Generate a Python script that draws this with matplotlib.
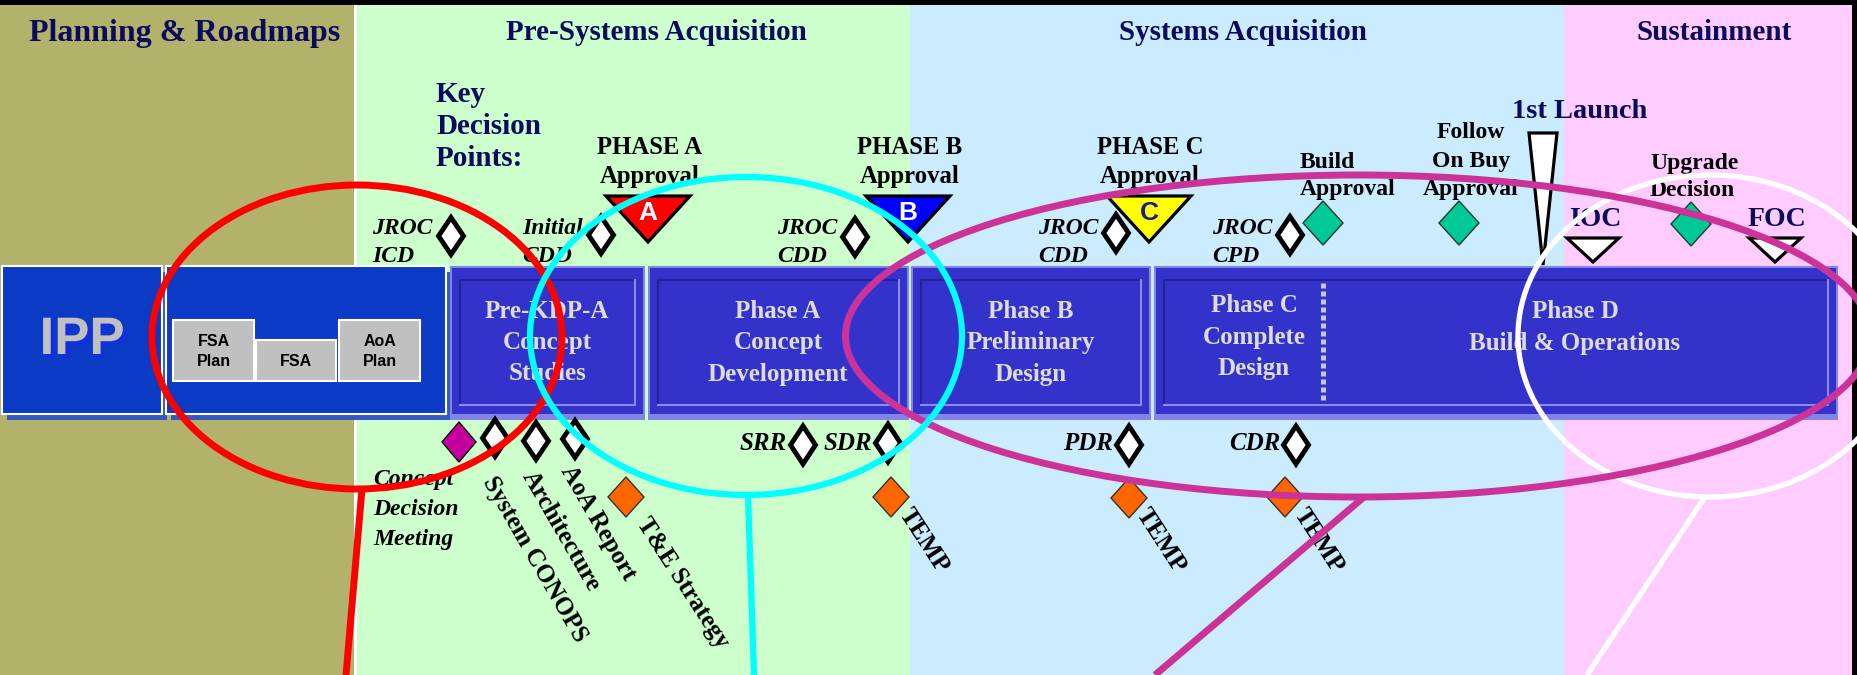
import matplotlib
matplotlib.use("Agg")
import matplotlib.pyplot as plt
import matplotlib.patheffects as pe
from matplotlib.patches import Rectangle, Polygon, Ellipse

SERIF = "Liberation Serif"
SANS = "Liberation Sans"
NAVY = "#0B0B5E"
W, H = 1857, 675

# background panels
panel_names = ["Planning & Roadmaps", "Pre-Systems Acquisition", "Systems Acquisition", "Sustainment"]
panel_left = [0, 357, 910, 1564]
panel_right = [354, 910, 1564, 1852]
panel_colors = ["#B3B26B", "#CCFFCC", "#CBEBFE", "#FFCCFF"]
header_x = [185, 656, 1243, 1714]
header_size = [23, 21, 21, 21]

# IPP / planning boxes
plan_left = [2, 166]
plan_right = [162, 446]
fsa_labels = ["FSA\nPlan", "FSA", "AoA\nPlan"]
fsa_left = [173, 256, 339]
fsa_right = [254, 336, 420]
fsa_top = [320, 340, 320]

# phase boxes
phase_left = [450, 648, 911, 1154]
phase_right = [645, 909, 1151, 1838]
phase_labels = ["Pre-KDP-A\nConcept\nStudies", "Phase A\nConcept\nDevelopment",
                "Phase B\nPreliminary\nDesign", "Phase C\nComplete\nDesign",
                "Phase D\nBuild & Operations"]
phase_text_x = [547, 778, 1031, 1254, 1575]
phase_text_y = [311, 311, 311, 306, 312]

# milestones above the band
jroc_labels = ["JROC\nICD", "Initial\nCDD", "JROC\nCDD", "JROC\nCDD", "JROC\nCPD"]
jroc_x = [451, 601, 855, 1116, 1290]
jroc_y = [236, 235, 237, 233, 235]
jroc_text_x = [372, 522, 777, 1038, 1212]

kdp_letters = ["A", "B", "C"]
kdp_x = [648, 908, 1149]
kdp_fill = ["#FF0000", "#0000FF", "#FFFF00"]
kdp_letter_color = ["white", "white", "#1A1A8C"]
kdp_labels = ["PHASE A\nApproval", "PHASE B\nApproval", "PHASE C\nApproval"]
kdp_label_x = [650, 910, 1150]

green_labels = ["Build\nApproval", "Follow\nOn Buy\nApproval", "Upgrade\nDecision"]
green_x = [1323, 1459, 1691]
green_y = [223, 223, 224]
green_text_x = [1300, 1471, 1650]
green_text_ha = ["left", "center", "left"]
green_text_y = [162, 133, 163]

ops_labels = ["IOC", "FOC"]
ops_x = [1593, 1775]
launch_x = 1543

# milestones below the band
review_labels = ["SRR", "SDR", "PDR", "CDR"]
review_x = [803, 888, 1129, 1296]
review_y = [445, 443, 445, 445]

doc_labels = ["System CONOPS", "Architecture", "AoA Report"]
doc_x = [495, 536, 575]
doc_y = [438, 441, 439]
doc_text_x = [488, 527, 566]
doc_text_y = [478, 473, 467]

orange_labels = ["T&E Strategy", "TEMP", "TEMP", "TEMP"]
orange_x = [626, 891, 1129, 1285]
orange_y = [497, 497, 498, 497]
orange_text_x = [642, 904, 1141, 1299]
orange_text_y = [520, 510, 510, 510]

cdm_label = "Concept\nDecision\nMeeting"
cdm_x, cdm_y = 459, 442

# highlight rings
ring_colors = ["#FFFFFF", "#CC3399", "#FF0000", "#00FFFF"]
ring_cx = [1710, 1358, 357, 746]
ring_cy = [336, 336, 337, 336]
ring_w = [384, 1025, 410, 432]
ring_h = [322, 322, 304, 318]
ring_lw = [3.8, 5, 5, 4.5]
tail_x0 = [1705, 1364, 362, 748]
tail_y0 = [497, 497, 489, 495]
tail_x1 = [1587, 1155, 346, 754]
tail_y1 = [675, 675, 675, 675]


def diamond(ax, x, y, hw, hh, fc, ec, lw, z=6):
    ax.add_patch(Polygon([(x, y - hh), (x + hw, y), (x, y + hh), (x - hw, y)],
                         closed=True, fc=fc, ec=ec, lw=lw, zorder=z, joinstyle="miter"))


def lines(ax, x, y0, text, dy, **kw):
    for i, s in enumerate(text.split("\n")):
        ax.text(x, y0 + i * dy, s, va="center", zorder=8, **kw)


fig = plt.figure(figsize=(W / 100, H / 100), dpi=100)
ax = fig.add_axes([0, 0, 1, 1])
ax.set_xlim(0, W)
ax.set_ylim(H, 0)
ax.axis("off")
ax.add_patch(Rectangle((0, 0), W, H, fc="black", zorder=0))

for l, r, c, name, hx, fs in zip(panel_left, panel_right, panel_colors, panel_names, header_x, header_size):
    ax.add_patch(Rectangle((l, 5), r - l, H - 5, fc=c, zorder=1))
    ax.text(hx, 33, name, ha="center", va="center", family=SERIF, weight="bold",
            fontsize=fs, color=NAVY, zorder=8)
ax.add_patch(Rectangle((354, 5), 3, H, fc="white", zorder=1))

# planning boxes
for l, r in zip(plan_left, plan_right):
    ax.add_patch(Rectangle((l + 5, 272), r - l, 148, fc="#3358C4", zorder=2))
    ax.add_patch(Rectangle((l, 266), r - l, 148, fc="#0B3AC4", ec="white", lw=1.5, zorder=3))
ax.text(82, 340, "IPP", ha="center", va="center", family=SANS, weight="bold",
        fontsize=38, color="#C0C0C0", zorder=4,
        path_effects=[pe.withSimplePatchShadow(offset=(3, -3), shadow_rgbFace="#1030E0", alpha=1.0)])
for lab, l, r, t in zip(fsa_labels, fsa_left, fsa_right, fsa_top):
    ax.add_patch(Rectangle((l, t), r - l, 381 - t, fc="#C0C0C0", ec="white", lw=1.5, zorder=4))
    n = lab.count("\n")
    lines(ax, (l + r) / 2, 361 - 20 * n, lab, 20, ha="center", family=SANS,
          weight="bold", fontsize=11.5, color="black")

# phase boxes
for l, r in zip(phase_left, phase_right):
    ax.add_patch(Rectangle((l, 266), r - l, 154, fc="#8484E8", zorder=2))
    ax.add_patch(Rectangle((l + 2, 268), r - l - 4, 146, fc="#3333CC", zorder=3))
    ax.plot([l + 10, l + 10, r - 10], [405, 280, 280], color="#22229A", lw=1.5, zorder=4)
    ax.plot([l + 10, r - 10, r - 10], [405, 405, 280], color="#8A8AF0", lw=1.5, zorder=4)
for lab, tx, ty in zip(phase_labels, phase_text_x, phase_text_y):
    lines(ax, tx, ty, lab, 31.5, ha="center", family=SERIF, weight="bold",
          fontsize=18, color="#DCDCDC")
ax.plot([1323, 1323], [283, 402], color="#C8C8C8", lw=3.6,
        linestyle=(0, (1.0, 0.6)), dash_capstyle="butt", zorder=5)

# key decision points header
lines(ax, 436, 95, "Key\nDecision\nPoints:", 31.5, ha="left", family=SERIF,
      weight="bold", fontsize=21, color=NAVY)

# JROC diamonds
for lab, x, y, tx in zip(jroc_labels, jroc_x, jroc_y, jroc_text_x):
    diamond(ax, x, y, 12.5, 18.5, "white", "black", 3.5, z=7)
    lines(ax, tx, 228, lab, 28, ha="left", family=SERIF, weight="bold",
          style="italic", fontsize=17, color="black")

# KDP triangles
for let, x, fc, lc, lab, lx in zip(kdp_letters, kdp_x, kdp_fill, kdp_letter_color, kdp_labels, kdp_label_x):
    ax.add_patch(Polygon([(x - 42, 196), (x + 42, 196), (x, 242)], closed=True,
                         fc=fc, ec="black", lw=2.3, zorder=6, joinstyle="miter"))
    ax.text(x, 213, let, ha="center", va="center", family=SANS, weight="bold",
            fontsize=19, color=lc, zorder=7)
    lines(ax, lx, 147, lab, 29, ha="center", family=SERIF, weight="bold",
          fontsize=17.8, color="black")

# green decisions
for lab, x, y, tx, ha, ty in zip(green_labels, green_x, green_y, green_text_x, green_text_ha, green_text_y):
    diamond(ax, x, y, 20, 22, "#00C896", "#1E3A2E", 1.0)
    lines(ax, tx, ty, lab, 28, ha=ha, family=SERIF, weight="bold",
          fontsize=17, color="black")

# launch and capability markers
ax.add_patch(Polygon([(launch_x - 14, 133), (launch_x + 14, 133), (launch_x, 265)],
                     closed=True, fc="white", ec="black", lw=2.3, zorder=6))
ax.text(1580, 111, "1st Launch", ha="center", va="center", family=SERIF,
        weight="bold", fontsize=20.5, color=NAVY, zorder=8)
for lab, x in zip(ops_labels, ops_x):
    ax.add_patch(Polygon([(x - 26, 238), (x + 26, 238), (x, 262)], closed=True,
                         fc="white", ec="black", lw=2.3, zorder=6))
    ax.text(x + 2, 219, lab, ha="center", va="center", family=SERIF, weight="bold",
            fontsize=20, color=NAVY, zorder=8)

# below the band
diamond(ax, cdm_x, cdm_y, 17, 20, "#C4009C", "black", 1.0)
lines(ax, 373, 480, cdm_label, 29.5, ha="left", family=SERIF, weight="bold",
      style="italic", fontsize=17, color="black")
for lab, x, y, tx, ty in zip(doc_labels, doc_x, doc_y, doc_text_x, doc_text_y):
    diamond(ax, x, y, 12.5, 18.5, "white", "black", 3.5, z=7)
    ax.text(tx, ty, lab, ha="left", va="center", rotation=-60, rotation_mode="anchor",
            family=SERIF, weight="bold", fontsize=18, color="black", zorder=8)
for lab, x, y in zip(review_labels, review_x, review_y):
    diamond(ax, x, y, 12.5, 19, "white", "black", 3.5, z=7)
    ax.text(x - 16, 443, lab, ha="right", va="center", family=SERIF, weight="bold",
            style="italic", fontsize=18, color="black", zorder=8)
for lab, x, y, tx, ty in zip(orange_labels, orange_x, orange_y, orange_text_x, orange_text_y):
    diamond(ax, x, y, 18, 20, "#FF6600", "#333333", 1.0)
    ax.text(tx, ty, lab, ha="left", va="center", rotation=-57, rotation_mode="anchor",
            family=SERIF, weight="bold", fontsize=18, color="black", zorder=8)

# right black edge
ax.add_patch(Rectangle((1852, 0), 5, H, fc="black", zorder=9))

# highlight rings with leader lines
for c, cx, cy, w, h, lw, x0, y0, x1, y1 in zip(ring_colors, ring_cx, ring_cy, ring_w, ring_h,
                                              ring_lw, tail_x0, tail_y0, tail_x1, tail_y1):
    ax.add_patch(Ellipse((cx, cy), w, h, fill=False, ec=c, lw=lw, zorder=10))
    ax.plot([x0, x1], [y0, y1], color=c, lw=lw, zorder=10, solid_capstyle="butt")

fig.savefig("out.png", dpi=100)
